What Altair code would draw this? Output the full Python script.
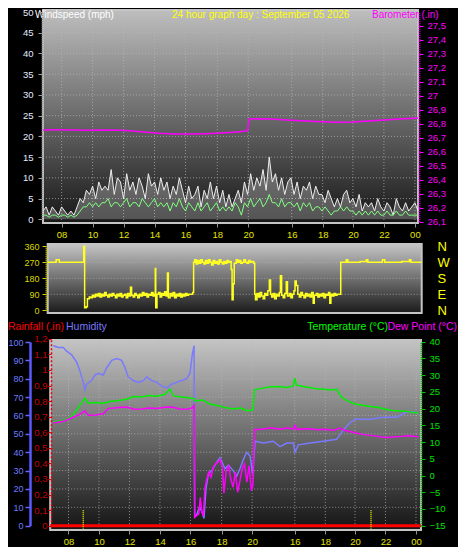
import altair as alt
import pandas as pd

W, H = 450, 539
FONT = "Liberation Sans"

# ---------------- data ----------------
wind_step_h = 0.2
gust = [
    2, 3, 1, 3, 2,
    1, 3, 2, 1, 2,
    1, 3, 5, 4, 7,
    6, 8, 5, 9, 7,
    8, 7, 12, 6, 10,
    9, 5, 11, 7, 9,
    6, 10, 8, 5, 11,
    8, 9, 6, 10, 7,
    9, 5, 8, 6, 10,
    7, 4, 8, 5, 6,
    8, 3, 7, 5, 9,
    5, 8, 4, 7, 3,
    6, 3, 5, 7, 4,
    9, 6, 11, 7, 10,
    8, 12, 7, 15, 9,
    11, 7, 10, 6, 9,
    10, 6, 9, 5, 8,
    7, 9, 5, 8, 6,
    6, 4, 7, 5, 3,
    5, 3, 6, 7, 4,
    5, 3, 6, 2, 4,
    3, 4, 2, 5, 3,
    2, 4, 3, 1, 5,
    3, 2, 4, 2, 3,
    4, 2,
]
avg = [
    1, 1, 0.5, 1, 1,
    0.5, 1, 1, 0.5, 1,
    0.5, 1, 2, 3, 3,
    4, 3, 4, 3, 4,
    4, 5, 3, 4, 4,
    3, 4, 5, 3, 4,
    4, 3, 5, 4, 3,
    4, 5, 3, 4, 3,
    4, 2, 4, 3, 5,
    3, 2, 4, 3, 2,
    4, 2, 3, 4, 2,
    3, 4, 2, 3, 2,
    3, 2, 4, 3, 1,
    4, 3, 5, 3, 4,
    5, 3, 4, 6, 4,
    4, 3, 5, 3, 4,
    4, 3, 4, 2, 4,
    3, 4, 2, 3, 3,
    2, 3, 2, 1, 2,
    2, 3, 2, 3, 2,
    2, 1, 2, 1, 2,
    1, 2, 1, 2, 1,
    1, 2, 1, 1, 2,
    1, 1, 2, 1, 1,
    1, 1,
]
baro_hours = [0, 1, 2, 3, 4, 5, 5.6, 6.5, 7.5, 8.5, 9.5, 10.5, 11.5, 12.5, 13.2, 13.3,
              14, 15, 16, 17, 18, 19, 20, 21, 22, 23, 24.2]
baro_vals = [26.756, 26.757, 26.756, 26.755, 26.756, 26.754, 26.75, 26.742, 26.733, 26.728,
             26.727, 26.73, 26.735, 26.742, 26.75, 26.835, 26.836, 26.832, 26.826, 26.82,
             26.815, 26.812, 26.813, 26.82, 26.828, 26.835, 26.842]

dir_hours = [0.0, 0.5, 0.55, 0.7, 0.75, 1.5, 2.3, 2.34, 2.4, 2.5, 2.58, 2.7, 2.8, 2.9, 3.0, 3.1,
             3.2, 3.3, 3.4, 3.5, 3.6, 3.7, 3.8, 3.9, 4.0, 4.1, 4.2, 4.3, 4.4, 4.5, 4.6, 4.7, 4.8,
             4.9, 5.0, 5.1, 5.2, 5.3, 5.38, 5.45, 5.55, 5.65, 5.75, 5.85, 5.95, 6.05, 6.15, 6.25,
             6.35, 6.45, 6.55, 6.65, 6.75, 6.85, 6.95, 6.99, 7.02, 7.1, 7.2, 7.3, 7.4, 7.5, 7.6,
             7.7, 7.78, 7.84, 7.95, 8.05, 8.15, 8.25, 8.35, 8.45, 8.55, 8.65, 8.75, 8.85, 8.95,
             9.05, 9.15, 9.3, 9.42, 9.48, 9.55, 9.65, 9.75, 9.85, 9.95, 10.05, 10.15, 10.25,
             10.35, 10.45, 10.55, 10.65, 10.75, 10.85, 10.95, 11.05, 11.15, 11.25, 11.35, 11.45,
             11.55, 11.65, 11.75, 11.85, 11.92, 11.98, 12.05, 12.12, 12.25, 12.35, 12.45, 12.55,
             12.65, 12.75, 12.85, 12.95, 13.05, 13.15, 13.25, 13.38, 13.45, 13.5, 13.6, 13.7,
             13.8, 13.9, 14.0, 14.1, 14.2, 14.3, 14.4, 14.48, 14.55, 14.65, 14.75, 14.85, 14.95,
             15.05, 15.12, 15.2, 15.3, 15.4, 15.5, 15.58, 15.7, 15.8, 15.9, 16.0, 16.07, 16.15,
             16.25, 16.35, 16.45, 16.55, 16.65, 16.75, 16.85, 16.95, 17.05, 17.15, 17.25, 17.32,
             17.45, 17.55, 17.65, 17.75, 17.85, 17.95, 18.05, 18.15, 18.25, 18.33, 18.4, 18.5,
             18.6, 18.7, 18.8, 18.9, 19.0, 19.04, 19.3, 19.4, 19.5, 20.0, 20.3, 20.7, 20.8, 21.5,
             21.75, 21.9, 22.5, 23.0, 23.5, 23.6, 24.3]
dir_vals = [270, 270, 285, 285, 270, 270, 270, 360, 15, 20, 65, 75, 70, 85, 75, 90,
            80, 95, 75, 90, 80, 100, 85, 75, 90, 80, 95, 85, 70, 90, 80, 95, 75,
            85, 90, 70, 95, 80, 130, 85, 75, 95, 85, 70, 90, 80, 100, 85,
            95, 75, 90, 85, 100, 80, 90, 235, 15, 90, 100, 75, 95, 85, 105,
            80, 210, 70, 95, 80, 100, 70, 90, 80, 95, 75, 90, 80, 95,
            85, 90, 90, 100, 270, 285, 260, 280, 265, 285, 270, 260, 280,
            265, 285, 270, 255, 280, 265, 275, 260, 285, 270, 260, 275,
            265, 280, 270, 275, 230, 60, 150, 265, 285, 270, 280, 265,
            270, 285, 270, 265, 280, 270, 275, 265, 90, 60, 95, 75,
            100, 80, 65, 95, 85, 110, 170, 90, 75, 95, 65, 90, 80,
            100, 195, 85, 70, 95, 160, 80, 95, 70, 90, 110, 165, 140,
            90, 75, 100, 85, 70, 95, 80, 90, 75, 100, 40, 85,
            95, 75, 90, 80, 95, 70, 90, 85, 100, 40, 90, 80,
            95, 85, 90, 90, 90, 270, 270, 285, 270, 270, 275, 285, 270, 270,
            285, 270, 270, 275, 285, 270, 270]

hum_hours = [0.2, 0.53, 0.86, 1.08, 1.41, 1.74, 1.96, 2.17, 2.28, 2.39, 2.72, 2.94, 3.16, 3.48,
             3.71, 4.04, 4.36, 4.69, 4.91, 5.12, 5.45, 5.78, 6.11, 6.34, 6.66, 6.99, 7.32, 7.64,
             7.97, 8.3, 8.63, 8.96, 9.17, 9.32, 9.44, 9.48, 9.61, 9.78, 9.94, 10.09, 10.22, 10.37,
             10.6, 10.81, 11.14, 11.47, 11.69, 12.01, 12.24, 12.45, 12.67, 12.89, 13.11, 13.29,
             13.44, 13.98, 14.64, 15.08, 15.52, 15.95, 16.06, 16.28, 17.05, 17.92, 18.8, 19.23,
             19.67, 20.0, 20.98, 21.86, 22.74, 23.39, 23.83, 24.15]
hum_vals = [98, 97, 97, 95, 93, 89, 84, 78, 74, 77, 79, 82, 83, 82,
            86, 90, 91, 90, 86, 81, 79, 78, 79, 81, 79, 78, 76, 75,
            77, 78, 79, 80, 83, 93, 98, 5, 6, 10, 8, 4, 20, 28,
            30, 33, 37, 31, 33, 30, 27, 31, 36, 40, 38, 28,
            46, 45, 46, 43, 45, 45, 40, 44, 45, 46, 47, 52,
            56, 58, 58, 59, 59, 62, 62, 61]

temp_hours = [0.2, 0.86, 1.3, 1.74, 1.96, 2.28, 2.5, 3.0, 3.5, 4.0, 4.5, 5.0, 5.5, 6.0, 6.5, 7.0,
              7.5, 7.86, 8.1, 8.6, 9.2, 9.44, 9.5, 10.0, 10.5, 11.0, 11.5, 12.0, 12.5, 12.9,
              13.3, 13.4, 14.0, 14.5, 15.0, 15.5, 15.95, 16.05, 16.15, 16.5, 17.0, 17.5, 18.0,
              18.5, 18.8, 19.1, 19.5, 20.0, 20.5, 21.0, 21.5, 22.0, 22.5, 23.0, 23.5, 24.15]
temp_vals = [16.0, 16.5, 17.2, 19.6, 21.1, 23.1, 21.6, 21.8, 21.6, 22.2, 22.4, 22.8, 23.6, 23.5,
             23.9, 23.7, 24.2, 25.8, 23.8, 23.5, 23.2, 23.0, 22.3, 22.6, 21.3, 20.9, 20.3, 19.9,
             20.2, 19.4, 19.6, 25.6, 26.2, 26.5, 26.6, 26.3, 26.8, 29.1, 27.0, 26.7, 26.3, 25.9,
             25.8, 25.6, 25.8, 23.5, 22.3, 21.4, 21.0, 20.6, 20.4, 19.8, 19.4, 19.3, 19.1, 18.6]

dew_hours = [0.2, 0.9, 1.4, 1.9, 2.28, 2.5, 3.0, 3.5, 3.8, 4.5, 5.0, 5.5, 6.0, 6.5, 7.0, 7.5,
             8.0, 8.5, 9.0, 9.35, 9.44, 9.48, 9.6, 9.75, 9.85, 9.95, 10.05, 10.15, 10.25, 10.4,
             10.55, 10.7, 10.85, 11.0, 11.15, 11.3, 11.4, 11.55, 11.7, 11.85, 12.0, 12.15, 12.3,
             12.45, 12.6, 12.75, 12.9, 13.05, 13.2, 13.3, 13.4, 14.0, 14.5, 15.0, 15.5, 16.0,
             16.05, 16.2, 17.0, 17.5, 18.0, 18.6, 19.0, 19.3, 19.8, 20.5, 21.0, 21.5, 22.0,
             22.5, 23.0, 23.5, 24.15]
dew_vals = [15.7, 16.3, 17.2, 18.2, 19.3, 18.0, 18.1, 18.5, 20.0, 20.3, 20.5, 19.8, 19.9, 20.2,
            20.0, 20.4, 20.5, 19.9, 19.8, 20.3, 21.0, -12.5, -12.0, -11.5, -6.5, -11.0, -12.0,
            -4.0, -1.5, 1.0, -0.5, 2.5, 3.5, 4.0, 4.8, 2.5, -5.3, 1.5, 2.8, -1.0, -3.5, 1.0,
            -5.0, -1.5, 2.0, 3.5, -2.0, 3.0, -4.5, -3.0, 13.7, 13.9, 14.3, 13.8, 14.2, 13.9,
            15.0, 13.8, 14.0, 13.7, 13.8, 13.5, 14.2, 13.5, 13.0, 12.3, 12.0, 11.7, 11.4,
            11.5, 11.7, 11.9, 11.6]

rain_hours = [0.0, 24.33]
rain_vals = [0.0, 0.0]
rain_reset_hours = [2.17, 21.05]

x_tick_hours = [1.2, 3.2, 5.2, 7.2, 9.2, 11.25, 13.25, 16.05, 18.05, 20.0, 22.0, 24.0]
x_tick_labels = ['08', '10', '12', '14', '16', '18', '20', '16', '18', '20', '22', '00']
wind_ticks = list(range(0, 51, 5))
baro_ticks = [round(26.1 + 0.1 * i, 1) for i in range(15)]
dir_ticks = [0, 90, 180, 270, 360]
dir_letters = ['N', 'E', 'S', 'W', 'N']
hum_ticks = list(range(0, 101, 10))
rain_ticks = [round(0.1 * i, 1) for i in range(13)]
temp_ticks = list(range(-15, 41, 5))

# ---------------- scales (plot regions of the three panels) ----------------
def sc(domain, rng):
    return alt.Scale(domain=domain, range=rng, nice=False, zero=False)

TOP_X = sc([0, 24.2], [35, 410])
WIND_Y = sc([0, 50], [211.3, 4.0])
BARO_Y = sc([26.1, 27.6], [213.7, 4.0])
MID_X = sc([0, 24.3], [39.7, 413.7])
DIR_Y = sc([0, 360], [302.3, 238.3])
BOT_X = sc([0, 24.33], [42.2, 413.0])
HUM_Y = sc([0, 100], [517.7, 334.0])
RAIN_Y = sc([0, 1.2], [517.7, 330.8])
TEMP_Y = sc([-15, 40], [517.7, 333.7])


def ax(**kw):
    base = dict(grid=False, title=None, labelFont=FONT, labelOverlap=False,
                labelFlush=False, zindex=1)
    base.update(kw)
    return alt.Axis(**base)


xlabel_expr = f"{x_tick_labels}[indexof({x_tick_hours}, datum.value)]"
comma_expr = ("datum.value == round(datum.value) ? format(datum.value, 'd') : "
              "replace(format(datum.value, '.1f'), '.', ',')")

# ---------------- data frames ----------------
hours = [round(i * wind_step_h, 2) for i in range(len(gust))]
wind_df = pd.DataFrame({"h": hours, "gust": gust, "avg": avg})
baro_df = pd.DataFrame({"h": baro_hours, "v": baro_vals})
dir_df = pd.DataFrame({"h": dir_hours, "v": dir_vals})
hum_df = pd.DataFrame({"h": hum_hours, "v": hum_vals})
temp_df = pd.DataFrame({"h": temp_hours, "v": temp_vals})
dew_df = pd.DataFrame({"h": dew_hours, "v": dew_vals})
rain_df = pd.DataFrame({"h": rain_hours, "v": rain_vals})


def grad(top, bot):
    return alt.Gradient(
        gradient="linear",
        stops=[alt.GradientStop(color=top, offset=0), alt.GradientStop(color=bot, offset=1)],
        x1=0, x2=0, y1=0, y2=1)


def panel_bg(xs, ys, x0, x1, y0, y1, top, bot):
    df = pd.DataFrame({"x0": [x0], "x1": [x1], "y0": [y0], "y1": [y1]})
    return alt.Chart(df).mark_rect(fill=grad(top, bot), stroke="#c4c4c4", strokeWidth=2).encode(
        x=alt.X("x0:Q", scale=xs, axis=None), x2="x1",
        y=alt.Y("y0:Q", scale=ys, axis=None), y2="y1")


def hgrid(xs, ys, vals, x0, x1):
    df = pd.DataFrame({"y": vals, "x0": x0, "x1": x1})
    return alt.Chart(df).mark_rule(color="#b8b8b8", strokeDash=[1, 2], opacity=0.7).encode(
        x=alt.X("x0:Q", scale=xs, axis=None), x2="x1",
        y=alt.Y("y:Q", scale=ys, axis=None))


def vgrid(xs, ys, vals, y0, y1):
    df = pd.DataFrame({"x": vals, "y0": y0, "y1": y1})
    return alt.Chart(df).mark_rule(color="#b8b8b8", strokeDash=[1, 2], opacity=0.7).encode(
        x=alt.X("x:Q", scale=xs, axis=None),
        y=alt.Y("y0:Q", scale=ys, axis=None), y2="y1")


def line(df, xs, ys, ycol, color, width, xaxis=None, yaxis=None, **kw):
    return alt.Chart(df).mark_line(color=color, strokeWidth=width, **kw).encode(
        x=alt.X("h:Q", scale=xs, axis=xaxis),
        y=alt.Y(f"{ycol}:Q", scale=ys, axis=yaxis))


def label(text, x, y, color, align="left", baseline="top", size=10.5):
    return alt.Chart(pd.DataFrame({"t": [text]})).mark_text(
        align=align, baseline=baseline, color=color, font=FONT, fontSize=size).encode(
        x=alt.value(x), y=alt.value(y), text="t:N")

# ---------------- top panel: wind & barometer ----------------
top_bg = panel_bg(TOP_X, WIND_Y, 0, 24.2, -0.9, 50.5, "#bebebe", "#161616")
top_hg = hgrid(TOP_X, WIND_Y, list(range(5, 50, 5)), 0, 24.2)
top_vg = vgrid(TOP_X, WIND_Y, x_tick_hours, -0.9, 50.5)
gust_area = alt.Chart(wind_df).mark_area(color="#ffffff", opacity=0.26).encode(
    x=alt.X("h:Q", scale=TOP_X, axis=None), y=alt.Y("gust:Q", scale=WIND_Y, axis=None))
gust_line = line(wind_df, TOP_X, WIND_Y, "gust", "#f4f4f4", 1, opacity=0.95,
                 xaxis=ax(orient="bottom", offset=215 - H, values=x_tick_hours,
                          labelExpr=xlabel_expr, tickColor="#909090", tickSize=4,
                          domain=False, labelColor="#e6e600", labelFontSize=9.5,
                          labelPadding=2),
                 yaxis=ax(orient="left", offset=-34, values=wind_ticks, tickColor="#a0a0a0",
                          tickSize=4, domainColor="#8c8c8c", domainDash=[1, 1], domainWidth=2,
                          labelColor="#e6ebff", labelFontSize=9.5, labelPadding=5))
avg_line = line(wind_df, TOP_X, WIND_Y, "avg", "#80ff80", 1)
baro_line = line(baro_df, TOP_X, BARO_Y, "v", "#ff00ff", 1.5,
                 yaxis=ax(orient="right", offset=411 - W, values=baro_ticks,
                          labelExpr=comma_expr,
                          tickColor="#ff00ff", tickSize=4, domainColor="#cc00cc",
                          domainDash=[1, 1], domainWidth=2, labelColor="#ff00ff",
                          labelFontSize=9.5, labelPadding=4))

# ---------------- middle panel: wind direction ----------------
mid_bg = panel_bg(MID_X, DIR_Y, 0, 24.3, -15, 373, "#c6c6c6", "#1a1a1a")
mid_hg = hgrid(MID_X, DIR_Y, [90, 180, 270], 0, 24.3)
dir_line = line(dir_df, MID_X, DIR_Y, "v", "#ffff22", 1.5, interpolate="step-after",
                yaxis=ax(orient="left", offset=-38, values=dir_ticks, tickColor="#d4d400",
                         tickSize=4, domainColor="#c8c800", domainDash=[1, 1], domainWidth=2,
                         labelColor="#d8d800", labelFontSize=9, labelPadding=3))
dir_letters_axis = alt.Chart(dir_df).mark_point(opacity=0).encode(
    x=alt.X("h:Q", scale=MID_X, axis=None),
    y=alt.Y("v:Q", scale=DIR_Y,
            axis=ax(orient="right", offset=429 - W, values=dir_ticks, ticks=False,
                    domain=False, labelPadding=0, labelAlign="left",
                    labelExpr=f"{dir_letters}[indexof({dir_ticks}, datum.value)]",
                    labelColor="#ffff00", labelFontSize=13)))

# ---------------- bottom panel: rain, humidity, temperature, dew point ----------------
bot_bg = panel_bg(BOT_X, HUM_Y, 0, 24.33, -2.3, 101.1, "#c4c4c4", "#141414")
bot_hg = hgrid(BOT_X, HUM_Y, list(range(10, 100, 10)), 0, 24.33)
bot_vg = vgrid(BOT_X, HUM_Y, x_tick_hours, -2.3, 101.1)
hum_line = line(hum_df, BOT_X, HUM_Y, "v", "#7a7aff", 1.5,
                xaxis=ax(orient="bottom", offset=522 - H, values=x_tick_hours,
                         labelExpr=xlabel_expr, tickColor="#909090", tickSize=4,
                         domain=False, labelColor="#e6e600", labelFontSize=9.5,
                         labelPadding=2),
                yaxis=ax(orient="left", offset=-22, values=hum_ticks, tickColor="#6464ff",
                         tickSize=5, tickWidth=1.5, domainColor="#5a5aff", domainWidth=2.5,
                         labelColor="#6e7cff", labelFontSize=9, labelPadding=2))
temp_line = line(temp_df, BOT_X, TEMP_Y, "v", "#00f000", 1.5,
                 yaxis=ax(orient="right", offset=413 - W, values=temp_ticks,
                          tickColor="#00c800", tickSize=4, domainColor="#00a000",
                          domainDash=[1, 1], domainWidth=2, labelColor="#00e000",
                          labelFontSize=9.5, labelPadding=4))
dew_line = line(dew_df, BOT_X, TEMP_Y, "v", "#ff00ff", 1.5)
rain_line = line(rain_df, BOT_X, RAIN_Y, "v", "#ff0000", 3,
                 yaxis=ax(orient="left", offset=-43, values=rain_ticks,
                          labelExpr=comma_expr,
                          tickColor="#dd0000", tickSize=3, domainColor="#ee0000",
                          domainDash=[2, 2], domainWidth=1.5, labelColor="#c80000",
                          labelFontSize=9.5, labelPadding=1))
reset_df = pd.DataFrame({"h": rain_reset_hours, "y0": 0.1, "y1": -0.02})
reset_marks = alt.Chart(reset_df).mark_rule(color="#e8e800", strokeDash=[1, 1], strokeWidth=1.5).encode(
    x=alt.X("h:Q", scale=BOT_X, axis=None),
    y=alt.Y("y0:Q", scale=RAIN_Y, axis=None), y2="y1")

# ---------------- titles ----------------
texts = [
    label("Windspeed (mph)", 27, 2, "#ffffff", size=10),
    label("24 hour graph day : September 05 2026", 164, 2, "#ffff00", size=10),
    label("Barometer (.in)", 364, 2, "#ff00ff", size=10),
    label("Rainfall (.in)", 0, 319, "#ff0000", baseline="middle"),
    label("Humidity", 58, 319, "#7878ff", baseline="middle"),
    label("Temperature (°C)", 380, 319, "#00ff00", align="right", baseline="middle"),
    label("Dew Point (°C)", 449, 319, "#ff00ff", align="right", baseline="middle"),
]

chart = alt.layer(
    top_bg, top_hg, top_vg, gust_area, gust_line, avg_line, baro_line,
    mid_bg, mid_hg, dir_line, dir_letters_axis,
    bot_bg, bot_hg, bot_vg, hum_line, temp_line, dew_line, rain_line, reset_marks,
    *texts,
).resolve_scale(x="independent", y="independent").resolve_axis(
    x="independent", y="independent"
).properties(
    width=W, height=H, background="black", padding=0,
    autosize=alt.AutoSizeParams(type="none"),
).configure_view(stroke=None)

chart.save("out.html", embed_options={"renderer": "svg", "actions": False})
